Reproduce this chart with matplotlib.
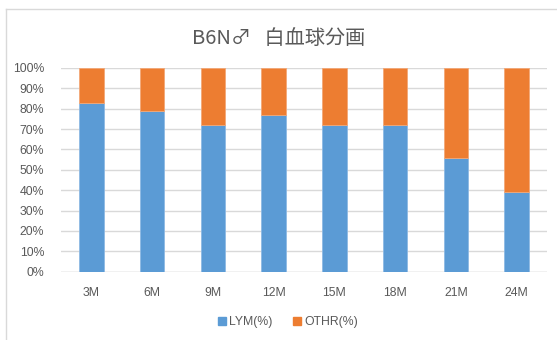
import matplotlib
matplotlib.use("Agg")
import matplotlib.pyplot as plt
from matplotlib.lines import Line2D
from matplotlib.ticker import PercentFormatter

# 月齢ごとの白血球分画 (%)
months = ['3M', '6M', '9M', '12M', '15M', '18M', '21M', '24M']
lym = [83, 79, 72, 77, 72, 72, 56, 39]
othr = [100 - v for v in lym]

blue = '#5B9BD5'
orange = '#ED7D31'
grey_txt = '#595959'
grid_col = '#D9D9D9'

plt.rcParams['font.family'] = ['Liberation Sans', 'DejaVu Sans']

fig = plt.figure(figsize=(5.57, 3.40), dpi=100)
ax = fig.add_axes([61 / 557, 1 - 271.7 / 340, 486 / 557, 203.7 / 340])

x = range(len(months))
ax.bar(x, lym, width=0.4, color=blue, edgecolor='#8DB9E4', linewidth=0.6, label='LYM(%)', zorder=3)
ax.bar(x, othr, width=0.4, bottom=lym, color=orange, edgecolor='#F3A877', linewidth=0.6,
       label='OTHR(%)', zorder=3)

ax.set_xlim(-0.5, len(months) - 0.5)
ax.set_ylim(0, 100)
ax.set_yticks(range(0, 101, 10))
ax.yaxis.set_major_formatter(PercentFormatter(decimals=0))
ax.set_xticks(list(x))
ax.set_xticklabels(months)
ax.tick_params(axis='both', length=0, labelsize=8.8, labelcolor=grey_txt)
ax.tick_params(axis='x', pad=11)
ax.tick_params(axis='y', pad=12)
ax.grid(axis='y', color=grid_col, linewidth=1, zorder=0)
for s in ax.spines.values():
    s.set_visible(False)
ax.axhline(0, color=grid_col, linewidth=1, zorder=2)

fig.text(0.4995, 1 - 38 / 340, 'B6N♂   白血球分画', ha='center', va='center', fontsize=14.5,
         color=grey_txt, family=['Noto Sans CJK JP', 'DejaVu Sans'])

handles = [Line2D([], [], marker='s', linestyle='none', markersize=5.5, color=c)
           for c in (blue, orange)]
fig.legend(handles, ['LYM(%)', 'OTHR(%)'], loc='center', bbox_to_anchor=(0.515, 1 - 322 / 340),
           ncol=2, frameon=False, fontsize=8.8, labelcolor=grey_txt, handletextpad=0.1,
           columnspacing=1.5, handlelength=1)

# 外枠
fig.add_artist(Line2D([6 / 557, 1], [1 - 9 / 340] * 2, color=grid_col, linewidth=1))
fig.add_artist(Line2D([6 / 557] * 2, [0, 1 - 9 / 340], color=grid_col, linewidth=1))

fig.savefig('out.png', dpi=100)
